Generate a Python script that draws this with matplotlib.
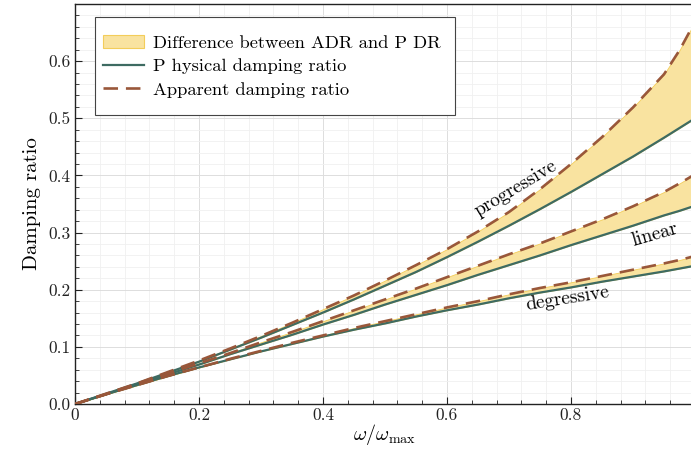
import numpy as np
import matplotlib
matplotlib.use("Agg")
import matplotlib.pyplot as plt
from matplotlib.patches import Patch, Rectangle
from matplotlib.lines import Line2D
from matplotlib.ticker import MultipleLocator

plt.rcParams['font.family'] = ['cmr10', 'DejaVu Serif']
plt.rcParams['mathtext.fontset'] = 'cm'
plt.rcParams['axes.formatter.use_mathtext'] = True

# omega / omega_max
w = [0.0, 0.05, 0.1, 0.15, 0.2, 0.25, 0.3, 0.35, 0.4, 0.45, 0.5,
     0.55, 0.6, 0.65, 0.7, 0.75, 0.8, 0.85, 0.9, 0.95, 0.975, 1.0]

# physical damping ratio
prog_phys = [0, 0.018, 0.036, 0.055, 0.074, 0.095, 0.116, 0.138, 0.160, 0.183, 0.207,
             0.231, 0.257, 0.284, 0.312, 0.341, 0.371, 0.402, 0.433, 0.466, 0.483, 0.500]
lin_phys = [0, 0.017, 0.035, 0.052, 0.069, 0.087, 0.104, 0.121, 0.139, 0.156, 0.174,
            0.191, 0.208, 0.226, 0.243, 0.260, 0.278, 0.295, 0.312, 0.330, 0.338, 0.347]
deg_phys = [0, 0.017, 0.033, 0.049, 0.064, 0.078, 0.092, 0.105, 0.118, 0.130, 0.141,
            0.153, 0.164, 0.174, 0.185, 0.195, 0.204, 0.214, 0.223, 0.232, 0.237, 0.242]

# apparent damping ratio
prog_app = [0, 0.018, 0.036, 0.056, 0.076, 0.097, 0.119, 0.142, 0.166, 0.190, 0.216,
            0.243, 0.271, 0.302, 0.336, 0.376, 0.420, 0.467, 0.519, 0.577, 0.619, 0.669]
lin_app = [0, 0.017, 0.035, 0.053, 0.071, 0.089, 0.108, 0.126, 0.145, 0.164, 0.183,
           0.202, 0.222, 0.242, 0.262, 0.281, 0.302, 0.323, 0.346, 0.371, 0.386, 0.402]
deg_app = [0, 0.017, 0.033, 0.049, 0.064, 0.079, 0.093, 0.107, 0.120, 0.133, 0.145,
           0.157, 0.169, 0.180, 0.192, 0.203, 0.213, 0.224, 0.235, 0.246, 0.252, 0.259]

x_ticks = [0, 0.2, 0.4, 0.6, 0.8, 1]
x_ticklabels = ['0', '0.2', '0.4', '0.6', '0.8', '1']
y_ticks = [0.0, 0.1, 0.2, 0.3, 0.4, 0.5, 0.6]
y_ticklabels = ['0.0', '0.1', '0.2', '0.3', '0.4', '0.5', '0.6']

fill_c = '#f9e3a0'
fill_edge = '#f3cd5a'
phys_c = '#3e6b62'
app_c = '#99573a'

fig = plt.figure(figsize=(6.91, 4.49), dpi=100)
ax = fig.add_axes([75 / 691, 45 / 449, 620 / 691, 400 / 449])

for phys, app in [(deg_phys, deg_app), (lin_phys, lin_app), (prog_phys, prog_app)]:
    ax.fill_between(w, phys, app, facecolor=fill_c, edgecolor=fill_edge, linewidth=0.6, zorder=2)
    ax.plot(w, phys, color=phys_c, lw=1.6, zorder=3, solid_capstyle='butt')
    ax.plot(w, app, color=app_c, lw=1.9, dashes=(5.5, 3), zorder=4)

ax.text(0.71, 0.377, 'progressive', rotation=31, fontsize=14, ha='center', va='center')
ax.text(0.935, 0.297, 'linear', rotation=16, fontsize=14, ha='center', va='center')
ax.text(0.795, 0.185, 'degressive', rotation=9, fontsize=14, ha='center', va='center')

ax.set_xlim(0, 1)
ax.set_ylim(0, 0.70)
ax.set_xticks(x_ticks)
ax.set_xticklabels(x_ticklabels)
ax.set_yticks(y_ticks)
ax.set_yticklabels(y_ticklabels)
ax.xaxis.set_minor_locator(MultipleLocator(0.04))
ax.yaxis.set_minor_locator(MultipleLocator(0.02))
ax.tick_params(which='both', direction='in', labelsize=12.5, colors='#222222')
ax.tick_params(axis='x', pad=3)
ax.tick_params(which='major', length=5, width=0.8)
ax.tick_params(which='minor', length=3, width=0.6)
ax.grid(which='major', color='#dddddd', lw=0.7, zorder=0)
ax.grid(which='minor', color='#f0f0f0', lw=0.6, zorder=0)
ax.set_axisbelow(True)
for s in ax.spines.values():
    s.set_color('#222222')
    s.set_linewidth(1.0)

ax.set_xlabel(r'$\omega/\omega_{\max}$', fontsize=14.5, labelpad=-1)
ax.set_ylabel('Damping ratio', fontsize=15, labelpad=5)

# legend frame drawn by hand so the side and top padding can differ
frame = Rectangle((95 / 691, 1 - 115 / 449), 360 / 691, 98 / 449, transform=fig.transFigure,
                  facecolor='white', edgecolor='#444444', lw=0.8, zorder=4.5, clip_on=False)
ax.add_patch(frame)

handles = [Patch(facecolor=fill_c, edgecolor=fill_edge, linewidth=0.8),
           Line2D([], [], color=phys_c, lw=1.6),
           Line2D([], [], color=app_c, lw=1.9, dashes=(5.5, 3))]
labels = ['Difference between ADR and P DR', 'P hysical damping ratio', 'Apparent damping ratio']
leg = ax.legend(handles, labels, loc='upper left', bbox_to_anchor=(0.045, 0.9225),
                borderaxespad=0, fontsize=13.3, frameon=False, handlelength=2.2,
                handletextpad=0.5, labelspacing=0.4, borderpad=0.0)
leg.set_zorder(5)

fig.savefig('out.png', dpi=100)
